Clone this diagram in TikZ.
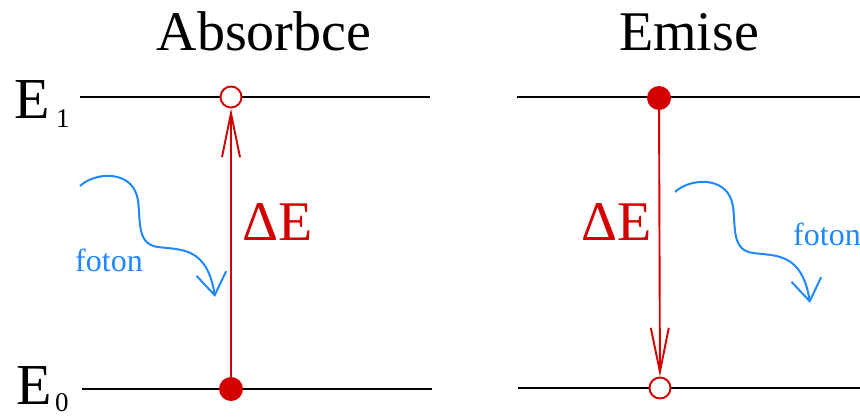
\documentclass[tikz,border=0pt]{standalone}
\usepackage{fontspec}
\setmainfont{Liberation Serif}
\usetikzlibrary{arrows.meta}
\definecolor{lred}{RGB}{212,0,0}
\definecolor{lblue}{RGB}{30,136,255}
\tikzset{
  level/.style={draw=black, line width=2.3pt},
  full/.style={circle, fill=lred, inner sep=0pt, minimum size=24pt},
  hollow/.style={circle, draw=lred, fill=white, line width=1.9pt, inner sep=0pt, minimum size=21pt},
  trans/.style={draw=lred, line width=1.9pt, -{Straight Barb[length=44pt,width=18pt,line width=1.9pt]}},
  photon/.style={draw=lblue, line width=2pt, -{Straight Barb[length=22pt,width=30pt,line width=2pt]}},
  title/.style={font=\fontsize{56}{60}\selectfont, anchor=base, inner sep=0pt},
  elab/.style={font=\fontsize{58}{60}\selectfont, anchor=base west, inner sep=0pt},
  esub/.style={font=\fontsize{27}{30}\selectfont, anchor=base west, inner sep=0pt},
  de/.style={font=\fontsize{56}{60}\selectfont, text=lred, anchor=base west, inner sep=0pt},
  fot/.style={font=\fontsize{32}{34}\selectfont, text=lblue, anchor=base west, inner sep=0pt}
}
\begin{document}
\begin{tikzpicture}[x=1pt,y=-1pt]
\useasboundingbox (0,0) rectangle (860,416);
% titles
\node[title] (tA) at (264,50) {Absorbce};
\node[title] (tE) at (689,50) {Emise};
% level labels
\node[elab] (E1) at (14,118) {E};
\node[esub] (s1) at (56,127) {1};
\node[elab] (E0) at (16,404) {E};
\node[esub] (s0) at (55,411) {0};
% levels
\coordinate (l1a) at (80,97); \coordinate (l1b) at (430,97);
\coordinate (l0a) at (82,389); \coordinate (l0b) at (432,389);
\coordinate (r1a) at (517,97); \coordinate (r1b) at (860,97);
\coordinate (r0a) at (518,388); \coordinate (r0b) at (860,388);
\draw[level] (l1a) -- (l1b);
\draw[level] (l0a) -- (l0b);
\draw[level] (r1a) -- (r1b);
\draw[level] (r0a) -- (r0b);
% absorption
\node[full] (ag) at (231,389) {};
\node[hollow] (ae) at (231,97) {};
\draw[trans] (ag) -- (ae);
\node[de] (dA) at (242,240) {ΔE};
% emission
\node[full] (ee) at (659,98) {};
\node[hollow] (eg) at (660,388) {};
\draw[trans] (ee) -- (eg);
\node[de] (dB) at (581,240) {ΔE};
% photons
\coordinate (p1s) at (80,186);
\coordinate (p1t) at (215,297);
\draw[photon] (p1s) .. controls (95,172) and (130,170) .. (137,196)
  .. controls (142,215) and (134,244) .. (158,247)
  .. controls (180,250) and (207,246) .. (p1t);
\node[fot] (f1) at (75,271) {foton};
\begin{scope}[shift={(595,6)}]
\coordinate (p2s) at (80,186);
\coordinate (p2t) at (215,297);
\draw[photon] (p2s) .. controls (95,172) and (130,170) .. (137,196)
  .. controls (142,215) and (134,244) .. (158,247)
  .. controls (180,250) and (207,246) .. (p2t);
\end{scope}
\node[fot] (f2) at (793,245) {foton};
\end{tikzpicture}
\end{document}
